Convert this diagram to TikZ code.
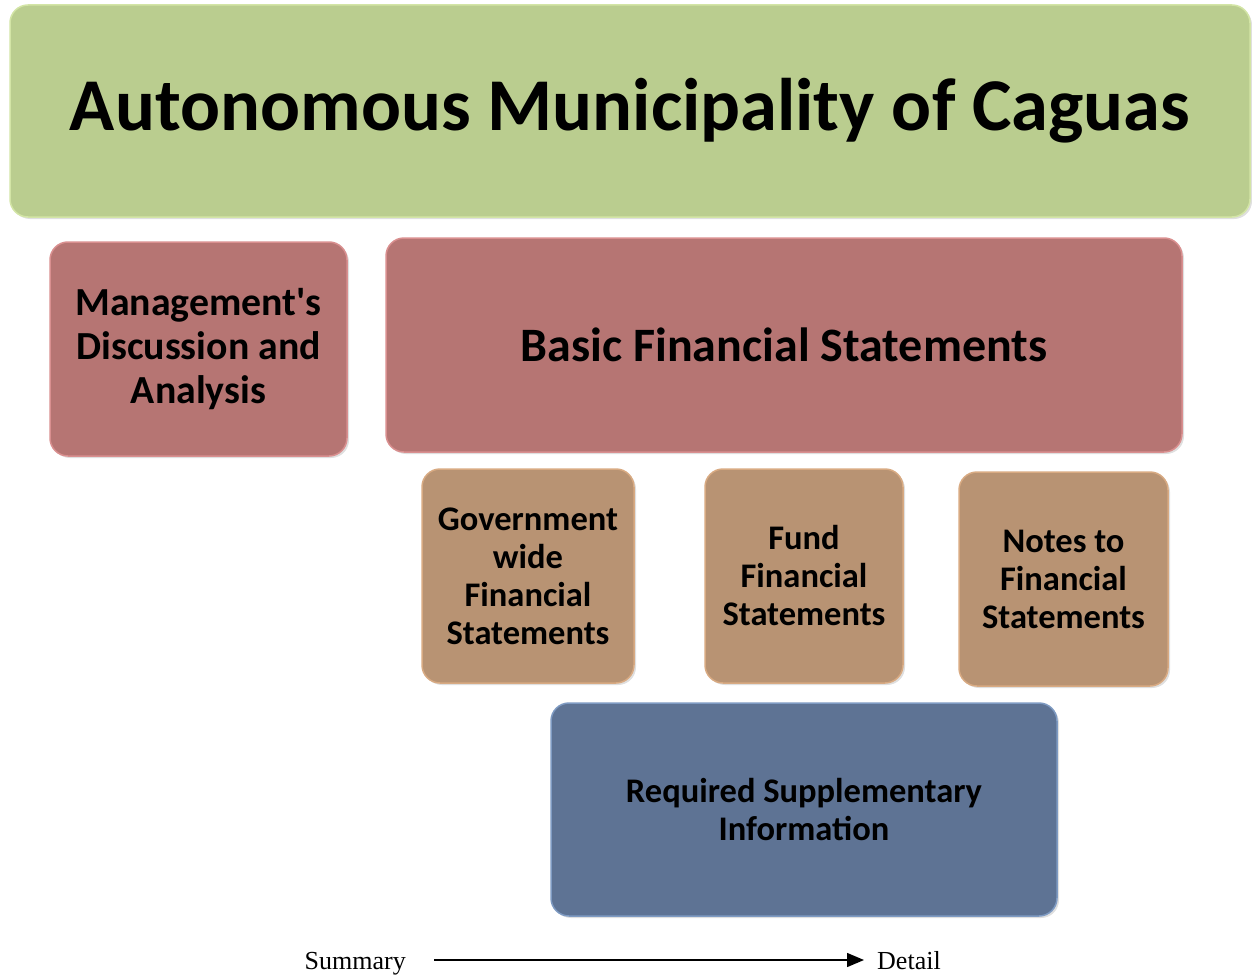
\documentclass[tikz,border=0pt]{standalone}
\usepackage{fontspec}
\setmainfont{Liberation Serif}
\newfontfamily\boxfont{Carlito}
\usetikzlibrary{arrows.meta,shadows}

\definecolor{titlegreen}{HTML}{BACD8F}
\definecolor{titleedge}{HTML}{D3E5A6}
\definecolor{partred}{HTML}{B67573}
\definecolor{partedge}{HTML}{D98F8F}
\definecolor{pieceTan}{HTML}{B89373}
\definecolor{pieceedge}{HTML}{D8AA82}
\definecolor{suppblue}{HTML}{5E7394}
\definecolor{suppedge}{HTML}{7E9AC2}

\begin{document}
\begin{tikzpicture}
    [x=1pt, y=-1pt, every node/.style={align=center, inner sep=0pt},
    box/.style = {rectangle, rounded corners=18pt, line width=1.5pt,
      font=\boxfont\bfseries, drop shadow={shadow xshift=2pt,
      shadow yshift=-2pt, opacity=0.25}},
    title/.style = {box, fill=titlegreen, draw=titleedge},
    part/.style = {box, fill=partred, draw=partedge},
    piece/.style = {box, fill=pieceTan, draw=pieceedge,
      font=\boxfont\bfseries\fontsize{34.5}{38}\selectfont},
    supp/.style = {box, fill=suppblue, draw=suppedge,
      font=\boxfont\bfseries\fontsize{34.5}{38}\selectfont}]

    \useasboundingbox (0,0) rectangle (1252,979);

    \node (cag) [title, minimum width=1240pt, minimum height=212pt,
      font=\boxfont\bfseries\fontsize{74.5}{88}\selectfont] at (630,111)
    {Autonomous Municipality of Caguas};

    \node (mda) [part, minimum width=297pt, minimum height=214pt,
      font=\boxfont\bfseries\fontsize{39.8}{44}\selectfont] at (198.5,349)
    {Management's\\
      Discussion and\\
      Analysis
    };
    \node (bfs) [part, minimum width=796pt, minimum height=214pt,
      font=\boxfont\bfseries\fontsize{48}{54}\selectfont] at (784,345)
    {Basic Financial Statements};

    \node (gov) [piece, minimum width=212pt, minimum height=214pt]
      at (528,576)
    {Government\\
      wide\\
      Financial\\
      Statements
    };
    \node (fund) [piece, minimum width=198pt, minimum height=214pt]
      at (804,576)
    {Fund\\
      Financial\\
      Statements
    };
    \node (notes) [piece, minimum width=209pt, minimum height=214pt]
      at (1063.5,579)
    {Notes to\\
      Financial\\
      Statements
    };

    \node (rsi) [supp, minimum width=506pt, minimum height=213pt]
      at (804,809.5)
    {Required Supplementary\\
      Information
    };

    % summary to detail scale
    \node (sum) [font=\fontsize{26}{30}\selectfont, anchor=base east]
      at (406,969) {Summary};
    \node (det) [font=\fontsize{26}{30}\selectfont, anchor=base west]
      at (877,969) {Detail};
    \coordinate (s0) at (434,960);
    \coordinate (s1) at (864,960);
    \draw[-{Triangle[length=17pt,width=14pt]}, line width=1.4pt] (s0) -- (s1);
  \end{tikzpicture}
\end{document}
